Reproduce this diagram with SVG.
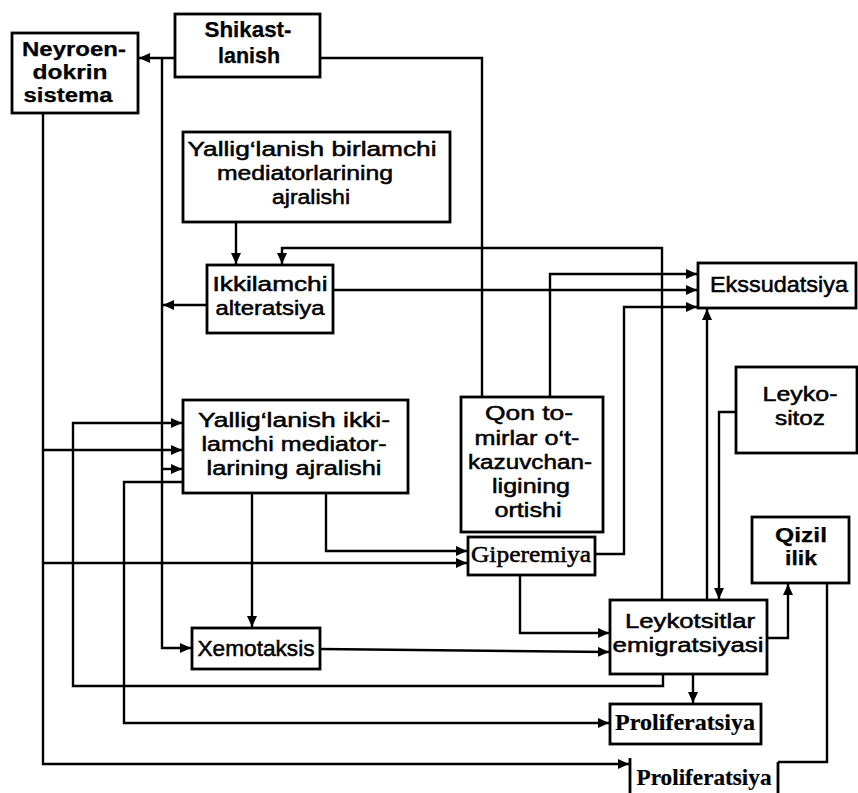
<svg xmlns="http://www.w3.org/2000/svg" width="858" height="793" viewBox="0 0 858 793">
<style>
.box{fill:#fff;stroke:#000;stroke-width:2.8}
.ln{fill:none;stroke:#000;stroke-width:2.4}
.ar{fill:none;stroke:#000;stroke-width:2.4;marker-end:url(#a)}
text{font-family:"Liberation Sans",Arial,sans-serif;font-size:20px;fill:#000;stroke:#000;stroke-width:0.5;text-anchor:middle}
.b{font-weight:bold;stroke-width:0.25}
.one{font-size:22px}
.s{font-family:"Liberation Serif","Times New Roman",serif;font-weight:bold;font-size:23px;stroke-width:0.2}
</style>
<defs>
<marker id="a" markerUnits="userSpaceOnUse" markerWidth="11" markerHeight="10" refX="11" refY="5" orient="auto">
<path d="M0,0 L11,5 L0,10 z" fill="#000"/>
</marker>
</defs>
<rect width="858" height="793" fill="#fff"/>
<g id="connectors">
<path class="ar" d="M175,58 H139"/>
<path class="ar" d="M162,58 V648 H191"/>
<path class="ar" d="M207,305 H163"/>
<path class="ln" d="M320,58 H482 V397"/>
<path class="ar" d="M236,222 V264"/>
<path class="ar" d="M662,600 V248 H282 V264"/>
<path class="ar" d="M333,290 H697"/>
<path class="ar" d="M550,397 V274 H697"/>
<path class="ar" d="M595,554 H624 V307 H697"/>
<path class="ar" d="M707,600 V309"/>
<path class="ar" d="M736,412 H719 V599"/>
<path class="ar" d="M767,638 H788 V584"/>
<path class="ln" d="M827,583 V762 H778"/>
<path class="ar" d="M693,674 V703"/>
<path class="ar" d="M520,575 V633 H609"/>
<path class="ar" d="M320,649 L609,652"/>
<path class="ar" d="M252,493 V627"/>
<path class="ar" d="M326,493 V551 H467"/>
<path class="ar" d="M43,113 V764 H629"/>
<path class="ar" d="M43,450 H182"/>
<path class="ar" d="M43,563 H467"/>
<path class="ar" d="M663,674 V686 H73 V423 H182"/>
<path class="ar" d="M162,469 H182"/>
<path class="ar" d="M183,482 H124 V723 H609"/>
</g>
<g id="neyroendokrin">
<rect class="box" x="12" y="33" width="126" height="80"/>
<text class="b" x="74" y="56" textLength="104" lengthAdjust="spacingAndGlyphs">Neyroen-</text>
<text class="b" x="70" y="79" textLength="75" lengthAdjust="spacingAndGlyphs">dokrin</text>
<text class="b" x="68" y="102" textLength="89" lengthAdjust="spacingAndGlyphs">sistema</text>
</g>
<g id="shikastlanish">
<rect class="box" x="175" y="14" width="145" height="63"/>
<text class="b one" x="248" y="37" textLength="87" lengthAdjust="spacingAndGlyphs">Shikast-</text>
<text class="b one" x="249" y="63" textLength="62" lengthAdjust="spacingAndGlyphs">lanish</text>
</g>
<g id="birlamchi">
<rect class="box" x="183" y="132" width="267" height="90"/>
<text x="312" y="156" textLength="249" lengthAdjust="spacingAndGlyphs">Yallig‘lanish birlamchi</text>
<text x="305" y="180" textLength="176" lengthAdjust="spacingAndGlyphs">mediatorlarining</text>
<text x="311" y="204" textLength="78" lengthAdjust="spacingAndGlyphs">ajralishi</text>
</g>
<g id="ikkilamchi-alteratsiya">
<rect class="box" x="207" y="265" width="126" height="68"/>
<text x="270" y="291" textLength="115" lengthAdjust="spacingAndGlyphs">Ikkilamchi</text>
<text x="270" y="315" textLength="109" lengthAdjust="spacingAndGlyphs">alteratsiya</text>
</g>
<g id="ekssudatsiya">
<rect class="box" x="698" y="263" width="158" height="45"/>
<text class="one" x="779" y="292" textLength="138" lengthAdjust="spacingAndGlyphs">Ekssudatsiya</text>
</g>
<g id="ikkilamchi-mediator">
<rect class="box" x="183" y="400" width="225" height="93"/>
<text x="294" y="427" textLength="192" lengthAdjust="spacingAndGlyphs">Yallig‘lanish ikki-</text>
<text x="294" y="451" textLength="185" lengthAdjust="spacingAndGlyphs">lamchi mediator-</text>
<text x="294" y="475" textLength="175" lengthAdjust="spacingAndGlyphs">larining ajralishi</text>
</g>
<g id="qon-tomirlar">
<rect class="box" x="461" y="397" width="142" height="135"/>
<text x="529" y="420" textLength="88" lengthAdjust="spacingAndGlyphs">Qon to-</text>
<text x="527" y="445" textLength="105" lengthAdjust="spacingAndGlyphs">mirlar o‘t-</text>
<text x="530" y="469" textLength="124" lengthAdjust="spacingAndGlyphs">kazuvchan-</text>
<text x="531" y="493" textLength="78" lengthAdjust="spacingAndGlyphs">ligining</text>
<text x="528" y="517" textLength="67" lengthAdjust="spacingAndGlyphs">ortishi</text>
</g>
<g id="leykositoz">
<rect class="box" x="736" y="367" width="121" height="86"/>
<text x="800" y="401" textLength="75" lengthAdjust="spacingAndGlyphs">Leyko-</text>
<text x="800" y="425" textLength="50" lengthAdjust="spacingAndGlyphs">sitoz</text>
</g>
<g id="qizil-ilik">
<rect class="box" x="752" y="517" width="97" height="66"/>
<text class="b" x="801" y="542" textLength="52" lengthAdjust="spacingAndGlyphs">Qizil</text>
<text class="b" x="801" y="565" textLength="32" lengthAdjust="spacingAndGlyphs">ilik</text>
</g>
<g id="giperemiya">
<rect class="box" x="468" y="537" width="127" height="38"/>
<text class="s" style="font-weight:normal;stroke-width:0.5" x="531" y="562" textLength="120" lengthAdjust="spacingAndGlyphs">Giperemiya</text>
</g>
<g id="xemotaksis">
<rect class="box" x="192" y="628" width="128" height="41"/>
<text class="one" x="256" y="656" textLength="117" lengthAdjust="spacingAndGlyphs">Xemotaksis</text>
</g>
<g id="leykotsitlar">
<rect class="box" x="610" y="600" width="157" height="74"/>
<text x="690" y="628" textLength="130" lengthAdjust="spacingAndGlyphs">Leykotsitlar</text>
<text x="688" y="652" textLength="151" lengthAdjust="spacingAndGlyphs">emigratsiyasi</text>
</g>
<g id="proliferatsiya-1">
<rect class="box" x="610" y="704" width="151" height="40"/>
<text class="s" x="685" y="730" textLength="140" lengthAdjust="spacingAndGlyphs">Proliferatsiya</text>
</g>
<g id="proliferatsiya-2">
<path class="ln" d="M630,758 V793 M778,762 V793" style="stroke-width:2.8"/>
<text class="s" x="704" y="785" textLength="135" lengthAdjust="spacingAndGlyphs">Proliferatsiya</text>
</g>
</svg>
